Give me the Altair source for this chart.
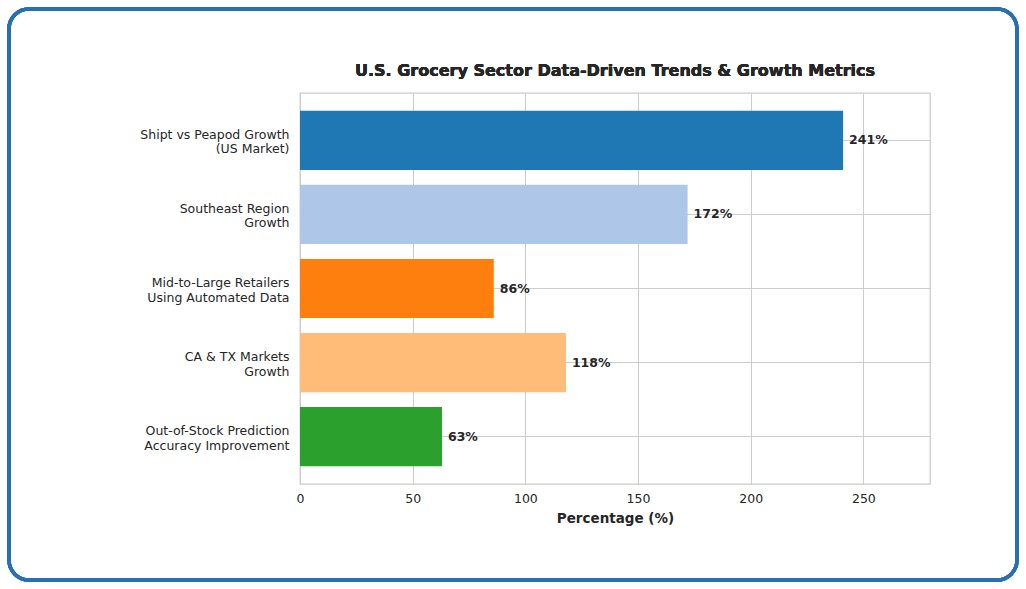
import altair as alt
import pandas as pd

# Metrics and their values (percent)
categories = [
    "Shipt vs Peapod Growth\n(US Market)",
    "Southeast Region\nGrowth",
    "Mid-to-Large Retailers\nUsing Automated Data",
    "CA & TX Markets\nGrowth",
    "Out-of-Stock Prediction\nAccuracy Improvement",
]
values = [241, 172, 86, 118, 63]
colors = ["#1f77b4", "#aec7e8", "#ff7f0e", "#ffbb78", "#2ca02c"]
x_ticks = [0, 50, 100, 150, 200, 250]
title_text = "U.S. Grocery Sector Data-Driven Trends & Growth Metrics"

df = pd.DataFrame({"metric": categories, "value": values, "color": colors})

FONT = "DejaVu Sans"
TEXT = "#262626"
GRID = "#cccccc"

x_max = max(values) * 1.16

y_enc = alt.Y(
    "metric:N",
    sort=categories,
    scale=alt.Scale(paddingInner=0.2, paddingOuter=0.24),
    axis=alt.Axis(
        title=None,
        labelExpr="split(datum.label, '\\n')",
        labelFontSize=12.5,
        labelLineHeight=14.5,
        labelOffset=-5.5,
        labelColor=TEXT,
        labelPadding=11,
        ticks=False,
        domain=False,
        grid=True,
        gridColor=GRID,
        gridWidth=1,
        bandPosition=0.5,
    ),
)

x_enc = alt.X(
    "value:Q",
    scale=alt.Scale(domain=[0, x_max], nice=False, zero=True),
    axis=alt.Axis(
        title="Percentage (%)",
        values=x_ticks,
        labelFontSize=12.5,
        labelColor=TEXT,
        labelPadding=8,
        labelFlush=False,
        ticks=False,
        domain=False,
        grid=True,
        gridColor=GRID,
        gridWidth=1,
        titleFontSize=13.5,
        titleFontWeight="bold",
        titleColor=TEXT,
        titlePadding=7,
    ),
)

bars = alt.Chart(df).mark_bar(cornerRadius=0).encode(
    y=y_enc,
    x=x_enc,
    color=alt.Color("color:N", scale=None, legend=None),
)

labels = alt.Chart(df).transform_calculate(
    label="datum.value + '%'"
).mark_text(
    align="left", baseline="middle", dx=6, fontSize=12.5,
    fontWeight="bold", color=TEXT, font=FONT,
).encode(
    y=alt.Y("metric:N", sort=categories),
    x=alt.X("value:Q"),
    text="label:N",
)

# Chart title, centred over the plot area
title = alt.Chart(df).mark_text(
    align="center", baseline="middle", fontSize=16, fontWeight="bold",
    color=TEXT, font=FONT,
).encode(
    x=alt.value(315), y=alt.value(-22), text=alt.value(title_text),
)

# Rounded frame around the whole figure
frame = alt.Chart(df).mark_rect(
    fill=None, fillOpacity=0, stroke="#2a6fb0", strokeWidth=3.5,
    cornerRadius=20, clip=False,
).encode(
    x=alt.value(-291), x2=alt.value(717),
    y=alt.value(-84), y2=alt.value(487),
)

chart = alt.layer(frame, title, bars, labels).properties(
    width=630,
    height=391,
    autosize=alt.AutoSizeParams(type="none"),
    padding={"left": 300, "top": 93, "right": 96, "bottom": 105},
).configure(
    font=FONT,
    background="white",
).configure_view(
    stroke=GRID, strokeWidth=1.3,
).configure_axis(
    labelFont=FONT, titleFont=FONT,
)

chart.save("out.html", embed_options={"renderer": "svg", "actions": False})
